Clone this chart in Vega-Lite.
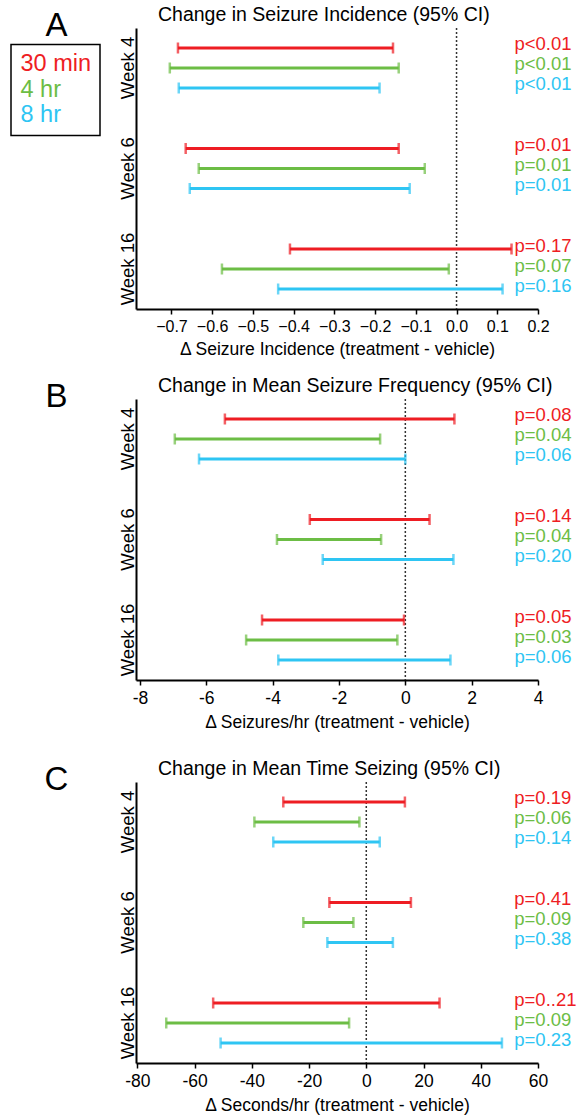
{
  "$schema": "https://vega.github.io/schema/vega-lite/v6.json",
  "padding": {"left": 10, "top": 5, "right": 5, "bottom": 5},
  "background": "white",
  "config": {
    "font": "Liberation Sans",
    "view": {"stroke": null},
    "axis": {"domainColor": "black", "domainWidth": 2, "tickColor": "black", "tickWidth": 1.5, "labelColor": "black", "titleColor": "black", "titleFontWeight": "normal", "grid": false, "labelFont": "Liberation Sans", "titleFont": "Liberation Sans"},
    "title": {"font": "Liberation Sans", "fontWeight": "normal", "color": "black"},
    "legend": {"strokeWidth": 1.5}
  },
  "datasets": {
    "ci": [
      {"panel": "A", "week": "Week 4", "dose": "30 min", "lo": -0.684, "hi": -0.156, "p": "p<0.01"},
      {"panel": "A", "week": "Week 4", "dose": "4 hr", "lo": -0.704, "hi": -0.142, "p": "p<0.01"},
      {"panel": "A", "week": "Week 4", "dose": "8 hr", "lo": -0.682, "hi": -0.189, "p": "p<0.01"},
      {"panel": "A", "week": "Week 6", "dose": "30 min", "lo": -0.665, "hi": -0.142, "p": "p=0.01"},
      {"panel": "A", "week": "Week 6", "dose": "4 hr", "lo": -0.633, "hi": -0.078, "p": "p=0.01"},
      {"panel": "A", "week": "Week 6", "dose": "8 hr", "lo": -0.655, "hi": -0.115, "p": "p=0.01"},
      {"panel": "A", "week": "Week 16", "dose": "30 min", "lo": -0.409, "hi": 0.135, "p": "p=0.17"},
      {"panel": "A", "week": "Week 16", "dose": "4 hr", "lo": -0.576, "hi": -0.019, "p": "p=0.07"},
      {"panel": "A", "week": "Week 16", "dose": "8 hr", "lo": -0.438, "hi": 0.113, "p": "p=0.16"},
      {"panel": "B", "week": "Week 4", "dose": "30 min", "lo": -5.44, "hi": 1.48, "p": "p=0.08"},
      {"panel": "B", "week": "Week 4", "dose": "4 hr", "lo": -6.95, "hi": -0.76, "p": "p=0.04"},
      {"panel": "B", "week": "Week 4", "dose": "8 hr", "lo": -6.22, "hi": 0.0, "p": "p=0.06"},
      {"panel": "B", "week": "Week 6", "dose": "30 min", "lo": -2.88, "hi": 0.73, "p": "p=0.14"},
      {"panel": "B", "week": "Week 6", "dose": "4 hr", "lo": -3.87, "hi": -0.73, "p": "p=0.04"},
      {"panel": "B", "week": "Week 6", "dose": "8 hr", "lo": -2.49, "hi": 1.45, "p": "p=0.20"},
      {"panel": "B", "week": "Week 16", "dose": "30 min", "lo": -4.32, "hi": -0.04, "p": "p=0.05"},
      {"panel": "B", "week": "Week 16", "dose": "4 hr", "lo": -4.80, "hi": -0.24, "p": "p=0.03"},
      {"panel": "B", "week": "Week 16", "dose": "8 hr", "lo": -3.83, "hi": 1.36, "p": "p=0.06"},
      {"panel": "C", "week": "Week 4", "dose": "30 min", "lo": -29.0, "hi": 13.5, "p": "p=0.19"},
      {"panel": "C", "week": "Week 4", "dose": "4 hr", "lo": -39.1, "hi": -2.4, "p": "p=0.06"},
      {"panel": "C", "week": "Week 4", "dose": "8 hr", "lo": -32.5, "hi": 4.7, "p": "p=0.14"},
      {"panel": "C", "week": "Week 6", "dose": "30 min", "lo": -12.9, "hi": 15.6, "p": "p=0.41"},
      {"panel": "C", "week": "Week 6", "dose": "4 hr", "lo": -22.0, "hi": -4.5, "p": "p=0.09"},
      {"panel": "C", "week": "Week 6", "dose": "8 hr", "lo": -13.6, "hi": 9.3, "p": "p=0.38"},
      {"panel": "C", "week": "Week 16", "dose": "30 min", "lo": -53.5, "hi": 25.6, "p": "p=0..21"},
      {"panel": "C", "week": "Week 16", "dose": "4 hr", "lo": -69.9, "hi": -6.0, "p": "p=0.09"},
      {"panel": "C", "week": "Week 16", "dose": "8 hr", "lo": -50.9, "hi": 47.4, "p": "p=0.23"}
    ]
  },
  "spacing": 18,
  "vconcat": [
    {
      "width": 402, "height": 281,
      "title": {"text": "Change in Seizure Incidence (95% CI)", "fontSize": 19.5, "anchor": "start", "frame": "group", "dx": 22, "offset": -16.5},
      "layer": [
        {
          "data": {"values": [{}]},
          "mark": {"type": "rule", "strokeDash": [2, 2], "color": "#333333", "strokeWidth": 1.5},
          "encoding": {"x": {"datum": 0, "type": "quantitative", "scale": {"domain": [-0.787, 0.2], "nice": false, "zero": false}}}
        },
        {
          "data": {"name": "ci"},
          "transform": [{"filter": "datum.panel == 'A'"}],
          "encoding": {
            "y": {"field": "week", "type": "nominal", "scale": {"domain": ["Week 4", "Week 6", "Week 16"], "paddingInner": 0.403, "paddingOuter": 0.0995},
              "axis": {"title": "A", "titleAngle": 0, "titleAnchor": "start", "titleAlign": "center", "titleBaseline": "line-bottom", "titleLineHeight": 6, "titleFontSize": 33, "titlePadding": 62.5, "ticks": false, "labelAngle": 270, "labelAlign": "center", "labelBaseline": "middle", "labelPadding": 8.5, "labelFontSize": 18.5}},
            "yOffset": {"field": "dose", "type": "nominal", "scale": {"domain": ["30 min", "4 hr", "8 hr"], "paddingInner": 0, "paddingOuter": 0}},
            "color": {"field": "dose", "type": "nominal", "scale": {"domain": ["30 min", "4 hr", "8 hr"], "range": ["#EE1D23", "#6CBD45", "#2EC5F3"]},
              "legend": {"orient": "none", "legendX": -125, "legendY": 16.5, "title": null, "direction": "vertical", "padding": 8, "strokeColor": "black", "labelFontSize": 23.5, "labelColor": {"expr": "scale('color', datum.value)"}, "symbolSize": 0, "symbolOpacity": 0, "symbolStrokeWidth": 0, "labelOffset": -22, "rowPadding": 0.5, "labelFont": "Liberation Sans"}}
          },
          "layer": [
            {"mark": {"type": "rule", "strokeWidth": 3}, "encoding": {"x": {"field": "lo", "type": "quantitative", "scale": {"domain": [-0.787, 0.2], "nice": false, "zero": false},
              "axis": {"title": "Δ Seizure Incidence (treatment - vehicle)", "titleFontSize": 17.5, "titlePadding": 6,
                "values": [-0.7, -0.6, -0.5, -0.4, -0.3, -0.2, -0.1, 0, 0.1, 0.2],
                "format": ".1f",
                "tickSize": 5,
                "labelFontSize": 16, "labelPadding": 4, "labelFlush": false, "labelOverlap": false}}, "x2": {"field": "hi"}}},
            {"mark": {"type": "tick", "orient": "vertical", "size": 11, "thickness": 2.5}, "encoding": {"x": {"field": "lo", "type": "quantitative", "scale": {"domain": [-0.787, 0.2], "nice": false, "zero": false}}}},
            {"mark": {"type": "tick", "orient": "vertical", "size": 11, "thickness": 2.5}, "encoding": {"x": {"field": "hi", "type": "quantitative", "scale": {"domain": [-0.787, 0.2], "nice": false, "zero": false}}}},
            {"mark": {"type": "text", "align": "left", "baseline": "alphabetic", "dy": 2.5, "fontSize": 18.5}, "encoding": {"x": {"datum": 0.142, "type": "quantitative", "scale": {"domain": [-0.787, 0.2], "nice": false, "zero": false}}, "text": {"field": "p"}}}
          ]
        }
      ]
    },
    {
      "spacing": 28,
      "vconcat": [
        {
          "width": 402, "height": 281,
          "title": {"text": "Change in Mean Seizure Frequency (95% CI)", "fontSize": 19.5, "anchor": "start", "frame": "group", "dx": 22, "offset": -16.5},
          "layer": [
            {
              "data": {"values": [{}]},
              "mark": {"type": "rule", "strokeDash": [2, 2], "color": "#333333", "strokeWidth": 1.5},
              "encoding": {"x": {"datum": 0, "type": "quantitative", "scale": {"domain": [-8.12, 4], "nice": false, "zero": false}}}
            },
            {
              "data": {"name": "ci"},
              "transform": [{"filter": "datum.panel == 'B'"}],
              "encoding": {
                "y": {"field": "week", "type": "nominal", "scale": {"domain": ["Week 4", "Week 6", "Week 16"], "paddingInner": 0.403, "paddingOuter": 0.0995},
                  "axis": {"title": "B", "titleAngle": 0, "titleAnchor": "start", "titleAlign": "center", "titleBaseline": "line-bottom", "titleLineHeight": 6, "titleFontSize": 33, "titlePadding": 62.5, "ticks": false, "labelAngle": 270, "labelAlign": "center", "labelBaseline": "middle", "labelPadding": 8.5, "labelFontSize": 18.5}},
                "yOffset": {"field": "dose", "type": "nominal", "scale": {"domain": ["30 min", "4 hr", "8 hr"], "paddingInner": 0, "paddingOuter": 0}},
                "color": {"field": "dose", "type": "nominal", "scale": {"domain": ["30 min", "4 hr", "8 hr"], "range": ["#EE1D23", "#6CBD45", "#2EC5F3"]},
                  "legend": {"orient": "none", "legendX": -125, "legendY": 16.5, "title": null, "direction": "vertical", "padding": 8, "strokeColor": "black", "labelFontSize": 23.5, "labelColor": {"expr": "scale('color', datum.value)"}, "symbolSize": 0, "symbolOpacity": 0, "symbolStrokeWidth": 0, "labelOffset": -22, "rowPadding": 0.5, "labelFont": "Liberation Sans"}}
              },
              "layer": [
                {"mark": {"type": "rule", "strokeWidth": 3}, "encoding": {"x": {"field": "lo", "type": "quantitative", "scale": {"domain": [-8.12, 4], "nice": false, "zero": false},
                  "axis": {"title": "Δ Seizures/hr (treatment - vehicle)", "titleFontSize": 17.5, "titlePadding": 7,
                    "values": [-8, -7, -6, -5, -4, -3, -2, -1, 0, 1, 2, 3, 4],
                    "labelExpr": "abs(datum.value % 2) < 0.01 ? (datum.value < 0 ? '-' : '') + abs(datum.value) : ''",
                    "tickSize": 5,
                    "tickDash": {"condition": {"test": "abs(datum.value % 2) < 0.01", "value": [5, 2]}, "value": [3, 10]},
                    "labelFontSize": 17.5, "labelPadding": 4, "labelFlush": false, "labelOverlap": false}}, "x2": {"field": "hi"}}},
                {"mark": {"type": "tick", "orient": "vertical", "size": 11, "thickness": 2.5}, "encoding": {"x": {"field": "lo", "type": "quantitative", "scale": {"domain": [-8.12, 4], "nice": false, "zero": false}}}},
                {"mark": {"type": "tick", "orient": "vertical", "size": 11, "thickness": 2.5}, "encoding": {"x": {"field": "hi", "type": "quantitative", "scale": {"domain": [-8.12, 4], "nice": false, "zero": false}}}},
                {"mark": {"type": "text", "align": "left", "baseline": "alphabetic", "dy": 2.5, "fontSize": 18.5}, "encoding": {"x": {"datum": 3.29, "type": "quantitative", "scale": {"domain": [-8.12, 4], "nice": false, "zero": false}}, "text": {"field": "p"}}}
              ]
            }
          ]
        },
        {
          "width": 402, "height": 281,
          "title": {"text": "Change in Mean Time Seizing (95% CI)", "fontSize": 19.5, "anchor": "start", "frame": "group", "dx": 22, "offset": -16.5},
          "layer": [
            {
              "data": {"values": [{}]},
              "mark": {"type": "rule", "strokeDash": [2, 2], "color": "#333333", "strokeWidth": 1.5},
              "encoding": {"x": {"datum": 0, "type": "quantitative", "scale": {"domain": [-80.46, 60], "nice": false, "zero": false}}}
            },
            {
              "data": {"name": "ci"},
              "transform": [{"filter": "datum.panel == 'C'"}],
              "encoding": {
                "y": {"field": "week", "type": "nominal", "scale": {"domain": ["Week 4", "Week 6", "Week 16"], "paddingInner": 0.403, "paddingOuter": 0.0995},
                  "axis": {"title": "C", "titleAngle": 0, "titleAnchor": "start", "titleAlign": "center", "titleBaseline": "line-bottom", "titleLineHeight": 6, "titleFontSize": 33, "titlePadding": 62.5, "ticks": false, "labelAngle": 270, "labelAlign": "center", "labelBaseline": "middle", "labelPadding": 8.5, "labelFontSize": 18.5}},
                "yOffset": {"field": "dose", "type": "nominal", "scale": {"domain": ["30 min", "4 hr", "8 hr"], "paddingInner": 0, "paddingOuter": 0}},
                "color": {"field": "dose", "type": "nominal", "scale": {"domain": ["30 min", "4 hr", "8 hr"], "range": ["#EE1D23", "#6CBD45", "#2EC5F3"]},
                  "legend": {"orient": "none", "legendX": -125, "legendY": 16.5, "title": null, "direction": "vertical", "padding": 8, "strokeColor": "black", "labelFontSize": 23.5, "labelColor": {"expr": "scale('color', datum.value)"}, "symbolSize": 0, "symbolOpacity": 0, "symbolStrokeWidth": 0, "labelOffset": -22, "rowPadding": 0.5, "labelFont": "Liberation Sans"}}
              },
              "layer": [
                {"mark": {"type": "rule", "strokeWidth": 3}, "encoding": {"x": {"field": "lo", "type": "quantitative", "scale": {"domain": [-80.46, 60], "nice": false, "zero": false},
                  "axis": {"title": "Δ Seconds/hr (treatment - vehicle)", "titleFontSize": 17.5, "titlePadding": 7,
                    "values": [-80, -70, -60, -50, -40, -30, -20, -10, 0, 10, 20, 30, 40, 50, 60],
                    "labelExpr": "abs(datum.value % 20) < 0.01 ? (datum.value < 0 ? '-' : '') + abs(datum.value) : ''",
                    "tickSize": 5,
                    "tickDash": {"condition": {"test": "abs(datum.value % 20) < 0.01", "value": [5, 2]}, "value": [3, 10]},
                    "labelFontSize": 17.5, "labelPadding": 4, "labelFlush": false, "labelOverlap": false}}, "x2": {"field": "hi"}}},
                {"mark": {"type": "tick", "orient": "vertical", "size": 11, "thickness": 2.5}, "encoding": {"x": {"field": "lo", "type": "quantitative", "scale": {"domain": [-80.46, 60], "nice": false, "zero": false}}}},
                {"mark": {"type": "tick", "orient": "vertical", "size": 11, "thickness": 2.5}, "encoding": {"x": {"field": "hi", "type": "quantitative", "scale": {"domain": [-80.46, 60], "nice": false, "zero": false}}}},
                {"mark": {"type": "text", "align": "left", "baseline": "alphabetic", "dy": 2.5, "fontSize": 18.5}, "encoding": {"x": {"datum": 51.7, "type": "quantitative", "scale": {"domain": [-80.46, 60], "nice": false, "zero": false}}, "text": {"field": "p"}}}
              ]
            }
          ]
        }
      ]
    }
  ]
}
